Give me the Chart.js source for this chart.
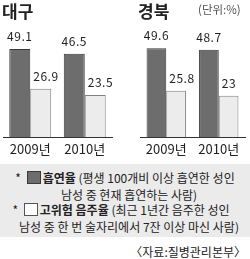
<!DOCTYPE html>
<html>
<head>
<meta charset="utf-8">
<script src="https://cdn.jsdelivr.net/npm/chart.js@4"></script>
<style>
  body { margin: 0; width: 250px; height: 259px; background: #fff; position: relative; overflow: hidden;
         font-family: "Noto Sans CJK KR", sans-serif; color: #222; }
  .panel { position: absolute; top: 0; }
  .title { position: absolute; top: -2px; font-size: 17px; font-weight: 700; color: #222; }
  .unit { position: absolute; top: 1px; left: 198px; font-size: 11.5px; color: #555; }
  .legend { position: absolute; left: 0; top: 164px; width: 250px; height: 73px; background: #ebebeb; }
  .row { position: absolute; left: 0; width: 250px; text-align: center; font-size: 12px; line-height: 16px; white-space: nowrap; }
  .sw { display: inline-block; width: 12px; height: 11px; vertical-align: -1px; margin: 0 2px 0 3px; }
  .source { position: absolute; right: 4px; top: 243px; font-size: 12px; }
</style>
</head>
<body>
<div class="panel" style="left:0; width:115px; height:163px;"><canvas id="daegu" width="115" height="163"></canvas></div>
<div class="panel" style="left:137px; width:112px; height:163px;"><canvas id="gyeongbuk" width="112" height="163"></canvas></div>
<div class="title" style="left:2px;">대구</div>
<div class="title" style="left:138px;">경북</div>
<div class="unit">(단위:%)</div>

<div class="legend">
  <div class="row" style="top:6px;">* <span class="sw" style="background:#6d6d6d;border:1px solid #3a3a3a;"></span><b>흡연율</b> (평생 100개비 이상 흡연한 성인</div>
  <div class="row" style="top:23px; left:4px;">남성 중 현재 흡연하는 사람)</div>
  <div class="row" style="top:38px; left:-4px;">* <span class="sw" style="background:#fff;border:1px solid #555;"></span><b>고위험 음주율</b> (최근 1년간 음주한 성인</div>
  <div class="row" style="top:55px; left:4px;">남성 중 한 번 술자리에서 7잔 이상 마신 사람)</div>
</div>
<div class="source">〈자료:질병관리본부〉</div>

<script>
const years = ["2009년", "2010년"];
const daeguSmoking = [49.1, 46.5];
const daeguDrinking = [26.9, 23.5];
const gbSmoking = [49.6, 48.7];
const gbDrinking = [25.8, 23];

// value labels above each bar
const valueLabels = {
    id: "valueLabels",
    afterDatasetsDraw(chart) {
        const ctx = chart.ctx;
        ctx.save();
        ctx.font = "12px 'Noto Sans CJK KR'";
        ctx.fillStyle = "#222";
        ctx.textBaseline = "alphabetic";
        if ("letterSpacing" in ctx) ctx.letterSpacing = "0.5px";
        chart.data.datasets.forEach((ds, i) => {
            chart.getDatasetMeta(i).data.forEach((bar, j) => {
                const label = String(ds.data[j]);
                if (i === 0) {
                    ctx.textAlign = "center";
                    ctx.fillText(label, bar.x, bar.y - 8);
                } else {
                    ctx.textAlign = "left";
                    ctx.fillText(label, bar.x - bar.width / 2 + 3, bar.y - 8);
                }
            });
        });
        ctx.restore();
    }
};

function makeChart(id, smoking, drinking, pad, catPct) {
    return new Chart(document.getElementById(id), {
        type: "bar",
        data: {
            labels: years,
            datasets: [{
                label: "흡연율",
                data: smoking,
                backgroundColor: "#6d6d6d",
                borderColor: "#3a3a3a",
                borderWidth: 1
            }, {
                label: "고위험 음주율",
                data: drinking,
                backgroundColor: "#ececec",
                borderColor: "#808080",
                borderWidth: 1
            }]
        },
        options: {
            responsive: false,
            devicePixelRatio: 1,
            animation: false,
            layout: { padding: pad },
            datasets: { bar: { categoryPercentage: catPct, barPercentage: 1.0 } },
            plugins: { legend: { display: false }, tooltip: { enabled: false } },
            scales: {
                x: {
                    grid: { display: false, drawTicks: false },
                    border: { display: true, color: "#333", width: 1 },
                    ticks: { color: "#222", font: { family: "Noto Sans CJK KR", size: 13 }, padding: 4 },
                    afterFit: s => { s.height = 26; }
                },
                y: { display: false, min: 0, max: 76.5 }
            }
        },
        plugins: [valueLabels]
    });
}

makeChart("daegu", daeguSmoking, daeguDrinking, { left: 3, right: 3, top: 0, bottom: 0 }, 0.77);
makeChart("gyeongbuk", gbSmoking, gbDrinking, { left: 3, right: 4, top: 0, bottom: 0 }, 0.75);
</script>
</body>
</html>
